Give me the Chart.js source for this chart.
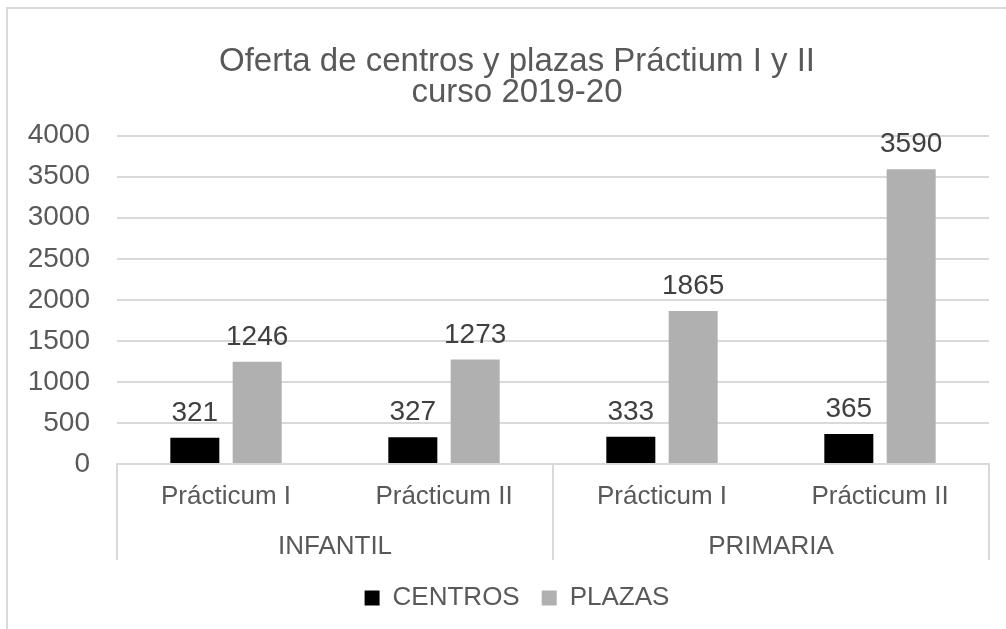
<!DOCTYPE html>
<html>
<head>
<meta charset="utf-8">
<script src="https://cdn.jsdelivr.net/npm/chart.js@4.4.0/dist/chart.umd.min.js"></script>
<style>
    html, body { margin: 0; padding: 0; background: #ffffff; }
    #wrap { position: relative; width: 1006px; height: 629px; overflow: hidden; }
    #frame {
        position: absolute; left: 6px; top: 7px;
        width: 1100px; height: 700px;
        border: 2px solid #d9d9d9;
    }
    #chart { position: absolute; left: 0; top: 0; }
</style>
</head>
<body>
<div id="wrap">
    <div id="frame"></div>
    <canvas id="chart" width="1040" height="629"></canvas>
</div>
<script>
// Data
const titleLines = ['Oferta de centros y plazas Práctium I y II', 'curso 2019-20'];
const practicumLabels = ['Prácticum I', 'Prácticum II', 'Prácticum I', 'Prácticum II'];
const groupLabels = ['INFANTIL', 'PRIMARIA'];
const centros = [321, 327, 333, 365];
const plazas = [1246, 1273, 1865, 3590];
const yTicks = [0, 500, 1000, 1500, 2000, 2500, 3000, 3500, 4000];

const FONT = "'Liberation Sans', Arial, sans-serif";
const textGray = '#595959';
const gridGray = '#d9d9d9';

// Value labels above every bar
const valueLabels = {
    id: 'valueLabels',
    afterDatasetsDraw(chart) {
        const ctx = chart.ctx;
        ctx.save();
        ctx.font = '28px ' + FONT;
        ctx.fillStyle = '#404040';
        ctx.textAlign = 'center';
        ctx.textBaseline = 'alphabetic';
        chart.data.datasets.forEach((ds, i) => {
            const meta = chart.getDatasetMeta(i);
            meta.data.forEach((bar, j) => {
                ctx.fillText(String(ds.data[j]), bar.x, bar.y - 17);
            });
        });
        ctx.restore();
    }
};

// Vertical separators of the two-level category axis
const groupSeparators = {
    id: 'groupSeparators',
    afterDraw(chart) {
        const g = chart.scales.x2;
        const top = chart.chartArea.bottom;
        const bottom = g.top + 39;
        const xs = [g.left, (g.getPixelForTick(0) + g.getPixelForTick(1)) / 2, g.right];
        const ctx = chart.ctx;
        ctx.save();
        ctx.strokeStyle = gridGray;
        ctx.lineWidth = 2;
        xs.forEach(x => {
            ctx.beginPath();
            ctx.moveTo(Math.round(x), top);
            ctx.lineTo(Math.round(x), bottom);
            ctx.stroke();
        });
        ctx.restore();
    }
};

new Chart(document.getElementById('chart').getContext('2d'), {
    type: 'bar',
    data: {
        labels: practicumLabels,
        datasets: [
            {
                label: 'CENTROS',
                data: centros,
                backgroundColor: '#000000',
                categoryPercentage: 0.572,
                barPercentage: 0.786
            },
            {
                label: 'PLAZAS',
                data: plazas,
                backgroundColor: '#b0b0b0',
                categoryPercentage: 0.572,
                barPercentage: 0.786
            }
        ]
    },
    options: {
        responsive: false,
        animation: false,
        devicePixelRatio: 1,
        // the chart frame runs past the right edge of the picture, so
        // title and legend are centred on a wider box than the visible one
        layout: { padding: { left: 0, right: 6, top: 0, bottom: 8 } },
        plugins: {
            title: {
                display: true,
                text: titleLines,
                color: textGray,
                font: { family: FONT, size: 33, weight: 'normal', lineHeight: 0.95 },
                padding: { top: 46, bottom: 27 }
            },
            legend: {
                position: 'bottom',
                labels: {
                    color: textGray,
                    font: { family: FONT, size: 26 },
                    boxWidth: 15,
                    boxHeight: 15,
                    padding: 22
                }
            },
            tooltip: { enabled: false }
        },
        scales: {
            x: {
                position: 'bottom',
                weight: 0,
                grid: { display: false },
                border: { display: true, color: gridGray, width: 2 },
                ticks: {
                    color: textGray,
                    font: { family: FONT, size: 26 },
                    maxRotation: 0,
                    padding: 9
                },
                afterFit(scale) { scale.height = 57; }
            },
            x2: {
                type: 'category',
                labels: groupLabels,
                position: 'bottom',
                weight: 1,
                offset: true,
                grid: { display: false },
                border: { display: false },
                ticks: {
                    color: textGray,
                    font: { family: FONT, size: 26 },
                    maxRotation: 0,
                    padding: 2
                },
                afterFit(scale) { scale.height = 42; }
            },
            y: {
                min: 0,
                max: 4000,
                afterBuildTicks(scale) {
                    scale.ticks = yTicks.map(v => ({ value: v }));
                },
                grid: { color: gridGray, lineWidth: 2, drawTicks: false },
                border: { display: false },
                ticks: {
                    color: textGray,
                    font: { family: FONT, size: 28 },
                    padding: 27,
                    callback: v => String(v)
                },
                afterFit(scale) { scale.width = 117; }
            },
            // empty spacer on the right edge of the plot
            yRight: {
                type: 'linear',
                position: 'right',
                display: true,
                grid: { display: false },
                border: { display: false },
                ticks: { display: false },
                afterFit(scale) { scale.width = 45; }
            }
        }
    },
    plugins: [valueLabels, groupSeparators]
});
</script>
</body>
</html>
